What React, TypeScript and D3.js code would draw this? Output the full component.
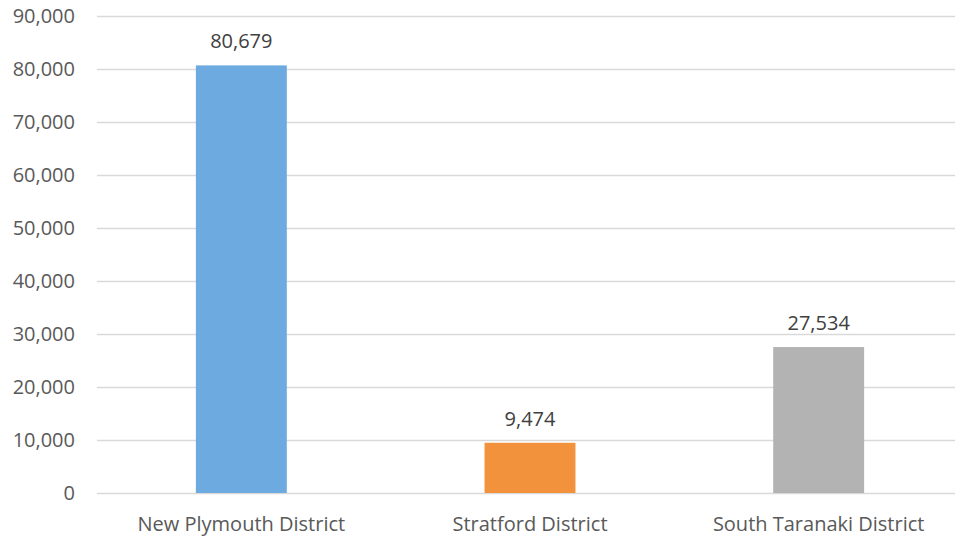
import { useEffect, useRef } from "react"
import * as d3 from "d3"

const categories = ["New Plymouth District", "Stratford District", "South Taranaki District"]
const values = [80679, 9474, 27534]
const barColors = ["#6CAADF", "#F3923C", "#B3B3B3"]
const yTicks = [0, 10000, 20000, 30000, 40000, 50000, 60000, 70000, 80000, 90000]

const width = 955
const height = 537
const font = "'Open Sans', 'Liberation Sans', sans-serif"
const textColor = "#595959"

export default function App() {
  const svgRef = useRef<SVGSVGElement>(null)

  useEffect(() => {
    if (!svgRef.current) return
    const svg = d3.select(svgRef.current)
    svg.selectAll("*").remove()

    const x = d3.scaleBand<string>().domain(categories).range([97, 963]).paddingInner(0.685).paddingOuter(0.3425)
    const y = d3.scaleLinear().domain([0, 90000]).range([493, 16])
    const fmt = d3.format(",")

    svg.append("rect").attr("width", width).attr("height", height).attr("fill", "#ffffff")

    // gridlines
    svg
      .selectAll(".grid")
      .data(yTicks)
      .enter()
      .append("line")
      .attr("x1", 97)
      .attr("x2", 963)
      .attr("y1", (d) => Math.round(y(d)) + 0.5)
      .attr("y2", (d) => Math.round(y(d)) + 0.5)
      .attr("stroke", "#d9d9d9")
      .attr("stroke-width", 1.3)

    // y tick labels
    svg
      .selectAll(".ytick")
      .data(yTicks)
      .enter()
      .append("text")
      .attr("x", 75)
      .attr("y", (d) => y(d))
      .attr("dy", "0.35em")
      .attr("text-anchor", "end")
      .attr("font-family", font)
      .attr("font-size", 20)
      .attr("fill", textColor)
      .text((d) => fmt(d))

    // bars
    svg
      .selectAll(".bar")
      .data(values)
      .enter()
      .append("rect")
      .attr("x", (_, i) => x(categories[i])!)
      .attr("y", (d) => y(d))
      .attr("width", x.bandwidth())
      .attr("height", (d) => y(0) - y(d))
      .attr("fill", (_, i) => barColors[i])

    // value labels
    svg
      .selectAll(".val")
      .data(values)
      .enter()
      .append("text")
      .attr("x", (_, i) => x(categories[i])! + x.bandwidth() / 2)
      .attr("y", (d) => y(d) - 24)
      .attr("dy", "0.35em")
      .attr("text-anchor", "middle")
      .attr("font-family", font)
      .attr("font-size", 20)
      .attr("fill", "#404040")
      .text((d) => fmt(d))

    // category labels
    svg
      .selectAll(".cat")
      .data(categories)
      .enter()
      .append("text")
      .attr("x", (d) => x(d)! + x.bandwidth() / 2)
      .attr("y", 524)
      .attr("dy", "0.35em")
      .attr("text-anchor", "middle")
      .attr("font-family", font)
      .attr("font-size", 20)
      .attr("fill", textColor)
      .text((d) => d)
  }, [])

  return (
    <svg
      ref={svgRef}
      width={width}
      height={height}
      style={{ position: "absolute", left: 0, top: 0, display: "block" }}
    />
  )
}
